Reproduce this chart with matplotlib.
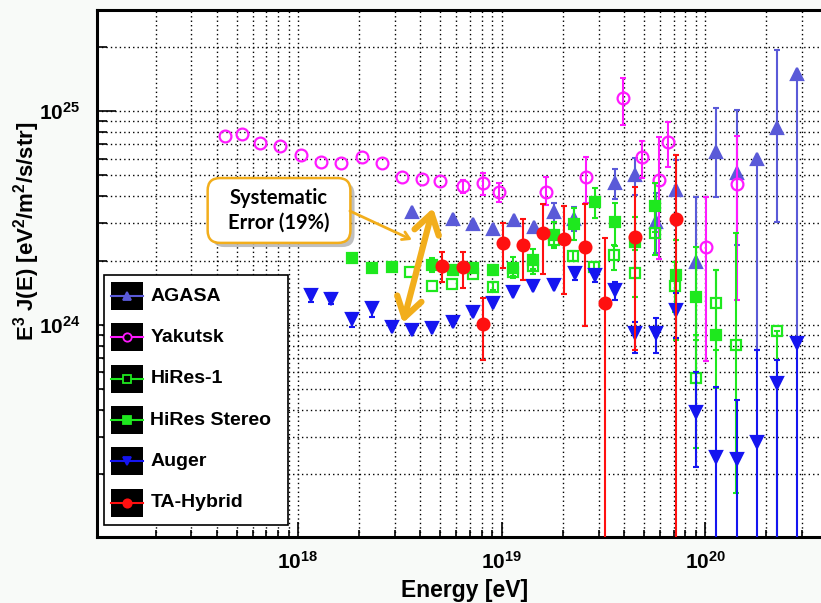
import numpy as np
import matplotlib.pyplot as plt
from matplotlib.patches import Rectangle, FancyBboxPatch
import matplotlib.patheffects as pe

# -------- FONTS --------
plt.rcParams['font.family'] = ['Liberation Sans', 'DejaVu Sans']
plt.rcParams['font.weight'] = 'bold'
plt.rcParams['mathtext.fontset'] = 'custom'
plt.rcParams['mathtext.rm'] = 'Liberation Sans:bold'
plt.rcParams['mathtext.bf'] = 'Liberation Sans:bold'
plt.rcParams['mathtext.default'] = 'bf'

# -------- DATA (E in eV, E^3 J(E) in eV^2/m^2/s/str) --------
BOTTOM = 1.0e23  # error bars that run off the bottom of the plot

agasa_E = [3.63e18, 5.78e18, 7.24e18, 9.08e18, 1.15e19, 1.44e19, 1.81e19, 2.27e19, 3.61e19,
           4.53e19, 5.74e19, 7.20e19, 9.03e19, 1.13e20, 1.44e20, 1.80e20, 2.26e20, 2.83e20]
agasa_J = [3.37e24, 3.13e24, 2.96e24, 2.81e24, 3.10e24, 2.87e24, 3.37e24, 3.13e24, 4.61e24,
           5.02e24, 3.03e24, 4.27e24, 1.97e24, 6.43e24, 5.13e24, 5.97e24, 8.33e24, 1.49e25]
agasa_lo = [3.37e24, 3.13e24, 2.96e24, 2.81e24, 3.10e24, 2.87e24, 3.03e24, 2.75e24, 3.88e24,
            4.05e24, 2.17e24, 2.93e24, 6.03e23, 3.96e24, 2.36e24, 7.64e23, 3.03e24, 8.24e23]
agasa_hi = [3.37e24, 3.13e24, 2.96e24, 2.81e24, 3.10e24, 2.87e24, 3.72e24, 3.56e24, 5.36e24,
            6.03e24, 4.14e24, 5.90e24, 3.96e24, 1.03e25, 1.01e25, 5.97e24, 1.93e25, 1.49e25]

yakutsk_E = [4.38e17, 5.31e17, 6.51e17, 8.16e17, 1.03e18, 1.30e18, 1.63e18, 2.06e18, 2.59e18,
             3.24e18, 4.07e18, 4.99e18, 6.47e18, 8.11e18, 9.72e18, 1.65e19, 2.60e19, 3.95e19,
             4.90e19, 5.94e19, 6.58e19, 1.01e20, 1.44e20]
yakutsk_J = [7.64e24, 7.81e24, 7.08e24, 6.86e24, 6.23e24, 5.78e24, 5.71e24, 6.10e24, 5.71e24,
             4.92e24, 4.81e24, 4.71e24, 4.46e24, 4.61e24, 4.18e24, 4.18e24, 4.92e24, 1.15e25,
             6.10e24, 4.76e24, 7.16e24, 2.31e24, 4.56e24]
yakutsk_lo = [7.64e24, 7.81e24, 7.08e24, 6.86e24, 6.23e24, 5.78e24, 5.71e24, 6.10e24, 5.71e24,
              4.92e24, 4.81e24, 4.71e24, 4.14e24, 4.05e24, 3.76e24, 3.64e24, 3.72e24, 8.60e24,
              4.86e24, 2.03e24, 5.47e24, 6.79e23, 1.31e24]
yakutsk_hi = [7.64e24, 7.81e24, 7.08e24, 6.86e24, 6.23e24, 5.78e24, 5.71e24, 6.10e24, 5.71e24,
              4.92e24, 4.81e24, 4.71e24, 4.76e24, 5.13e24, 4.61e24, 4.92e24, 6.10e24, 1.43e25,
              7.24e24, 7.56e24, 8.88e24, 3.96e24, 7.64e24]

hires1_E = [3.55e18, 4.55e18, 5.71e18, 7.24e18, 9.08e18, 1.14e19, 1.43e19, 1.81e19, 2.24e19,
            2.85e19, 3.57e19, 4.53e19, 5.68e19, 7.13e19, 9.03e19, 1.13e20, 1.42e20, 2.26e20]
hires1_J = [1.77e24, 1.52e24, 1.56e24, 1.73e24, 1.51e24, 1.77e24, 1.89e24, 2.50e24, 2.10e24,
            1.87e24, 2.12e24, 1.75e24, 2.69e24, 1.52e24, 5.65e23, 1.27e24, 8.07e23, 9.37e23]
hires1_lo = [1.77e24, 1.52e24, 1.56e24, 1.73e24, 1.45e24, 1.70e24, 1.82e24, 2.29e24, 1.99e24,
             1.77e24, 1.81e24, 1.35e24, 2.12e24, 1.15e24, 2.66e23, 7.64e23, 1.64e23, BOTTOM]
hires1_hi = [1.77e24, 1.52e24, 1.56e24, 1.73e24, 1.58e24, 1.84e24, 1.97e24, 2.78e24, 2.22e24,
             1.97e24, 2.36e24, 2.24e24, 3.44e24, 1.97e24, 8.98e23, 1.81e24, 2.69e24, 9.37e23]

stereo_E = [1.84e18, 2.31e18, 2.90e18, 4.55e18, 5.78e18, 7.24e18, 9.08e18, 1.14e19, 1.43e19,
            1.81e19, 2.27e19, 2.88e19, 3.61e19, 4.53e19, 5.68e19, 7.20e19, 9.03e19, 1.13e20]
stereo_J = [2.06e24, 1.85e24, 1.87e24, 1.91e24, 1.81e24, 1.85e24, 1.81e24, 1.85e24, 2.01e24,
            2.63e24, 2.96e24, 3.76e24, 3.03e24, 2.44e24, 3.60e24, 1.71e24, 1.35e24, 8.98e23]
stereo_lo = [2.06e24, 1.85e24, 1.87e24, 1.77e24, 1.72e24, 1.76e24, 1.72e24, 1.66e24, 1.73e24,
             2.31e24, 2.50e24, 3.16e24, 2.34e24, 1.85e24, 2.72e24, 8.51e23, 8.51e23, 5.08e23]
stereo_hi = [2.06e24, 1.85e24, 1.87e24, 2.06e24, 1.90e24, 1.94e24, 1.90e24, 2.08e24, 2.27e24,
             3.03e24, 3.52e24, 4.37e24, 3.72e24, 3.20e24, 4.61e24, 2.50e24, 2.31e24, 1.81e24]

auger_E = [1.16e18, 1.45e18, 1.84e18, 2.31e18, 2.90e18, 3.63e18, 4.55e18, 5.78e18, 7.24e18,
           9.08e18, 1.14e19, 1.43e19, 1.81e19, 2.30e19, 2.88e19, 3.61e19, 4.53e19, 5.74e19,
           7.20e19, 9.03e19, 1.13e20, 1.44e20, 1.80e20, 2.26e20, 2.83e20]
auger_J = [1.38e24, 1.32e24, 1.07e24, 1.20e24, 9.79e23, 9.48e23, 9.68e23, 1.03e24, 1.15e24,
           1.27e24, 1.43e24, 1.52e24, 1.54e24, 1.75e24, 1.71e24, 1.46e24, 9.18e23, 9.18e23,
           1.17e24, 3.92e23, 2.42e23, 2.37e23, 2.84e23, 5.36e23, 8.24e23]
auger_lo = [1.28e24, 1.25e24, 9.79e23, 1.09e24, 9.79e23, 9.48e23, 9.68e23, 1.03e24, 1.15e24,
            1.27e24, 1.43e24, 1.52e24, 1.54e24, 1.62e24, 1.59e24, 1.31e24, 7.40e23, 7.40e23,
            8.69e23, 2.17e23, BOTTOM, BOTTOM, BOTTOM, BOTTOM, BOTTOM]
auger_hi = [1.44e24, 1.41e24, 1.14e24, 1.27e24, 9.79e23, 9.48e23, 9.68e23, 1.03e24, 1.15e24,
            1.27e24, 1.43e24, 1.52e24, 1.54e24, 1.85e24, 1.81e24, 1.59e24, 1.03e24, 1.08e24,
            1.41e24, 6.03e23, 5.13e23, 4.46e23, 7.64e23, 6.86e23, 8.24e23]

ta_E = [5.10e18, 6.47e18, 8.11e18, 1.02e19, 1.28e19, 1.60e19, 2.03e19, 2.57e19, 3.23e19,
        4.53e19, 7.20e19]
ta_J = [1.89e24, 1.87e24, 1.01e24, 2.42e24, 2.36e24, 2.69e24, 2.52e24, 2.31e24, 1.27e24,
        2.58e24, 3.13e24]
ta_lo = [1.59e24, 1.49e24, 6.86e23, 1.85e24, 1.62e24, 1.73e24, 1.40e24, 9.89e23, BOTTOM,
         7.64e23, BOTTOM]
ta_hi = [2.19e24, 2.19e24, 1.34e24, 3.00e24, 3.13e24, 3.68e24, 3.60e24, 3.68e24, 2.55e24,
         4.42e24, 6.23e24]

# name, data, colour, marker, filled
series = [
    ("AGASA", (agasa_E, agasa_J, agasa_lo, agasa_hi), "#5a5ad8", "^", True),
    ("Yakutsk", (yakutsk_E, yakutsk_J, yakutsk_lo, yakutsk_hi), "#ff1aff", "o", False),
    ("HiRes-1", (hires1_E, hires1_J, hires1_lo, hires1_hi), "#1ee81e", "s", False),
    ("HiRes Stereo", (stereo_E, stereo_J, stereo_lo, stereo_hi), "#1ee81e", "s", True),
    ("Auger", (auger_E, auger_J, auger_lo, auger_hi), "#1515f0", "v", True),
    ("TA-Hybrid", (ta_E, ta_J, ta_lo, ta_hi), "#ff1010", "o", True),
]
msizes = {"^": 8.5, "o": 8.5, "s": 7.5, "v": 8.5}

# -------- FIGURE --------
fig = plt.figure(figsize=(8.21, 6.03), dpi=100, facecolor="#f8faf8")
ax = fig.add_axes([0.1181, 0.1095, 0.887, 0.874])
ax.set_facecolor("white")
ax.set_xscale("log")
ax.set_yscale("log")
ax.set_xlim(1.03e17, 3.89e20)
ax.set_ylim(1.02e23, 2.97e25)

for z, (name, (E, J, lo, hi), col, mk, filled) in enumerate(series):
    E, J, lo, hi = map(np.array, (E, J, lo, hi))
    has_err = (hi > J) | (lo < J)
    ax.errorbar(E[has_err], J[has_err], yerr=[J[has_err] - lo[has_err], hi[has_err] - J[has_err]],
                fmt="none", ecolor=col, elinewidth=1.5, capsize=2.5, capthick=1.5, zorder=3 + z)
    ax.plot(E, J, mk, linestyle="none", color=col, ms=msizes[mk],
            mfc=col if filled else "none", mec=col, mew=1.6, zorder=3 + z)

# -------- AXES STYLE --------
ax.grid(True, which="both", color="black", linestyle=(0, (1, 2.2)), linewidth=1.0)
ax.set_axisbelow(True)
for sp in ax.spines.values():
    sp.set_linewidth(2.2)
ax.tick_params(which="both", direction="in", top=False, right=False, width=1.2,
               labelsize=15)
ax.tick_params(axis="x", which="major", length=11, pad=10)
ax.tick_params(axis="x", which="minor", length=5)
ax.tick_params(axis="y", which="major", length=14, pad=12)
ax.tick_params(axis="y", which="minor", length=7)

ax.set_xlabel("Energy [eV]", fontsize=16.5, fontweight="bold")
ax.xaxis.set_label_coords(0.505, -0.079)
ax.set_ylabel(r"E$^3$ J(E) [eV$^2$/m$^2$/s/str]", fontsize=16, fontweight="bold")
ax.yaxis.set_label_coords(-0.076, 0.58)

# -------- LEGEND (drawn by hand, black swatches) --------
ax.add_patch(Rectangle((0.0097, 0.0228), 0.2525, 0.474, transform=ax.transAxes,
                       fc="white", ec="black", lw=1.2, zorder=20))
for i, (name, _, col, mk, filled) in enumerate(series):
    yc = 0.457 - i * 0.0784
    ax.add_patch(Rectangle((0.0193, yc - 0.0265), 0.0442, 0.053, transform=ax.transAxes,
                           fc="black", ec="none", zorder=21))
    ax.plot([0.0193, 0.0635], [yc, yc], color=col, lw=1.5, transform=ax.transAxes,
            zorder=22, clip_on=False)
    ax.plot([0.0414], [yc], marker=mk, ms=6, color=col, mfc=col if filled else "black",
            mec=col, mew=1.3, transform=ax.transAxes, zorder=23, clip_on=False)
    ax.text(0.0732, yc, name, transform=ax.transAxes, fontsize=14, fontweight="bold",
            va="center", ha="left", zorder=23)

# -------- SYSTEMATIC ERROR CALLOUT --------
orange = "#f2ae1c"
box = FancyBboxPatch((0.152, 0.558), 0.196, 0.123, transform=ax.transAxes,
                     boxstyle="round,pad=0,rounding_size=0.017", mutation_aspect=724 / 527,
                     fc="white", ec=orange, lw=1.8, zorder=25)
box.set_path_effects([pe.withSimplePatchShadow(offset=(3, -3), shadow_rgbFace="gray", alpha=0.5)])
ax.add_patch(box)
ax.text(0.250, 0.6195, "Systematic\nError (19%)", transform=ax.transAxes,
        family=["Lato", "DejaVu Sans"], fontsize=14.5, fontweight="bold",
        ha="center", va="center", linespacing=1.25, zorder=26)

ax.annotate("", xy=(3.63e18, 2.50e24), xytext=(1.80e18, 3.41e24),
            arrowprops=dict(arrowstyle="->,head_length=0.5,head_width=0.3", color=orange,
                            lw=2, shrinkA=0, shrinkB=0), zorder=26)
ax.annotate("", xy=(4.61e18, 3.52e24), xytext=(3.28e18, 1.02e24),
            arrowprops=dict(arrowstyle="<->,head_length=0.7,head_width=0.45", color=orange,
                            lw=4.5, shrinkA=0, shrinkB=0, mutation_scale=20), zorder=26)

fig.savefig("out.png", dpi=100, facecolor=fig.get_facecolor())
